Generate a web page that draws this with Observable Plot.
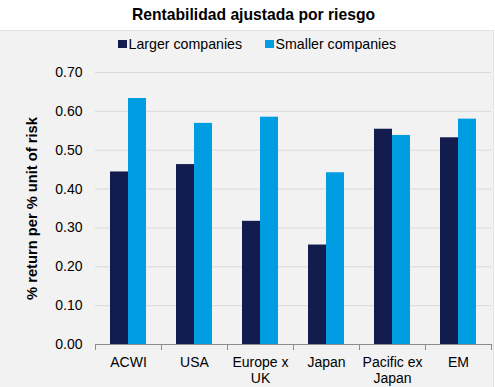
<!DOCTYPE html>
<html>
<head>
<meta charset="utf-8">
<script src="https://cdn.jsdelivr.net/npm/d3@7"></script>
<script src="https://cdn.jsdelivr.net/npm/@observablehq/plot@0.6"></script>
<style>
  html, body { margin: 0; padding: 0; background: #fff; }
  #wrap { position: relative; width: 495px; height: 387px; overflow: hidden; background: #fff;
          font-family: "Liberation Sans", Arial, sans-serif; color: #000; }
  #title { position: absolute; left: 0; top: 7.4px; width: 507px; text-align: center;
           font-size: 15.7px; font-weight: bold; line-height: 1; white-space: nowrap; }
  #panel { position: absolute; left: 0; top: 30px; width: 494px; height: 357px;
           background: #f2f2f2; border-top: 1px solid #e4e4e4; border-right: 1px solid #e4e4e4; box-sizing: border-box; }
  #legend { position: absolute; left: 118px; top: 36.9px; display: flex; align-items: baseline;
            font-size: 14.2px; line-height: 1; white-space: nowrap; }
  #legend .item { display: flex; align-items: center; margin-right: 23px; }
  #legend .sw { width: 8.5px; height: 8px; margin-right: 2px; margin-top: 1px; }
  #chart { position: absolute; left: 0; top: 58px; }
</style>
</head>
<body>
<div id="wrap">
  <div id="panel"></div>
  <div id="title"></div>
  <div id="legend"></div>
  <div id="chart"></div>
</div>
<script>
const titleText = "Rentabilidad ajustada por riesgo";
const yLabel = "% return per % unit of risk";
const categories = ["ACWI", "USA", "Europe x\nUK", "Japan", "Pacific ex\nJapan", "EM"];
const seriesNames = ["Larger companies", "Smaller companies"];
const largerValues = [0.444, 0.463, 0.317, 0.256, 0.554, 0.532];
const smallerValues = [0.633, 0.569, 0.585, 0.442, 0.538, 0.580];
const yTicks = [0, 0.1, 0.2, 0.3, 0.4, 0.5, 0.6, 0.7];
const seriesColors = ["#131c4e", "#009de2"];

document.getElementById("title").textContent = titleText;

const legend = document.getElementById("legend");
seriesNames.forEach((name, i) => {
  const item = document.createElement("div");
  item.className = "item";
  const sw = document.createElement("div");
  sw.className = "sw";
  sw.style.background = seriesColors[i];
  const label = document.createElement("span");
  label.textContent = name;
  item.appendChild(sw);
  item.appendChild(label);
  legend.appendChild(item);
});

const data = categories.flatMap((c, i) => [
  {category: c, series: seriesNames[0], value: largerValues[i]},
  {category: c, series: seriesNames[1], value: smallerValues[i]}
]);

const H = 329, MT = 14, MB = 43;
const frameH = H - MT - MB;

const chart = Plot.plot({
  width: 495,
  height: H,
  marginTop: MT,
  marginBottom: MB,
  marginLeft: 92,
  marginRight: 2,
  style: {background: "transparent", fontFamily: "Liberation Sans, Arial, sans-serif", fontSize: "14px", color: "#000", overflow: "visible"},
  fx: {domain: categories, padding: 0, label: null},
  x: {domain: seriesNames, paddingInner: 0, paddingOuter: 0.76, axis: null},
  y: {domain: [0, 0.7], label: null},
  color: {domain: seriesNames, range: seriesColors},
  marks: [
    Plot.gridY(yTicks, {stroke: "#d9d9d9", strokeOpacity: 1, strokeWidth: 1}),
    Plot.axisY(yTicks, {tickSize: 0, tickPadding: 13, tickFormat: d => d.toFixed(2), fontSize: 14, label: null}),
    Plot.axisY([], {tickSize: 0, label: yLabel, labelAnchor: "center", labelArrow: "none", labelOffset: 69,
      fontWeight: "bold", fontSize: 14.7, dy: 4}),
    Plot.barY(data, {fx: "category", x: "series", y: "value", fill: "series"}),
    Plot.ruleY([0], {stroke: "#8c8c8c", strokeWidth: 1}),
    Plot.frame({anchor: "left", stroke: "#8c8c8c", insetTop: frameH, insetBottom: -5}),
    Plot.frame({anchor: "right", stroke: "#8c8c8c", insetTop: frameH, insetBottom: -5, facet: "super"}),
    Plot.axisFx({anchor: "bottom", tickSize: 0, tickPadding: 11, label: null, lineHeight: 1.15, fontSize: 14})
  ]
});
document.getElementById("chart").appendChild(chart);
</script>
</body>
</html>
